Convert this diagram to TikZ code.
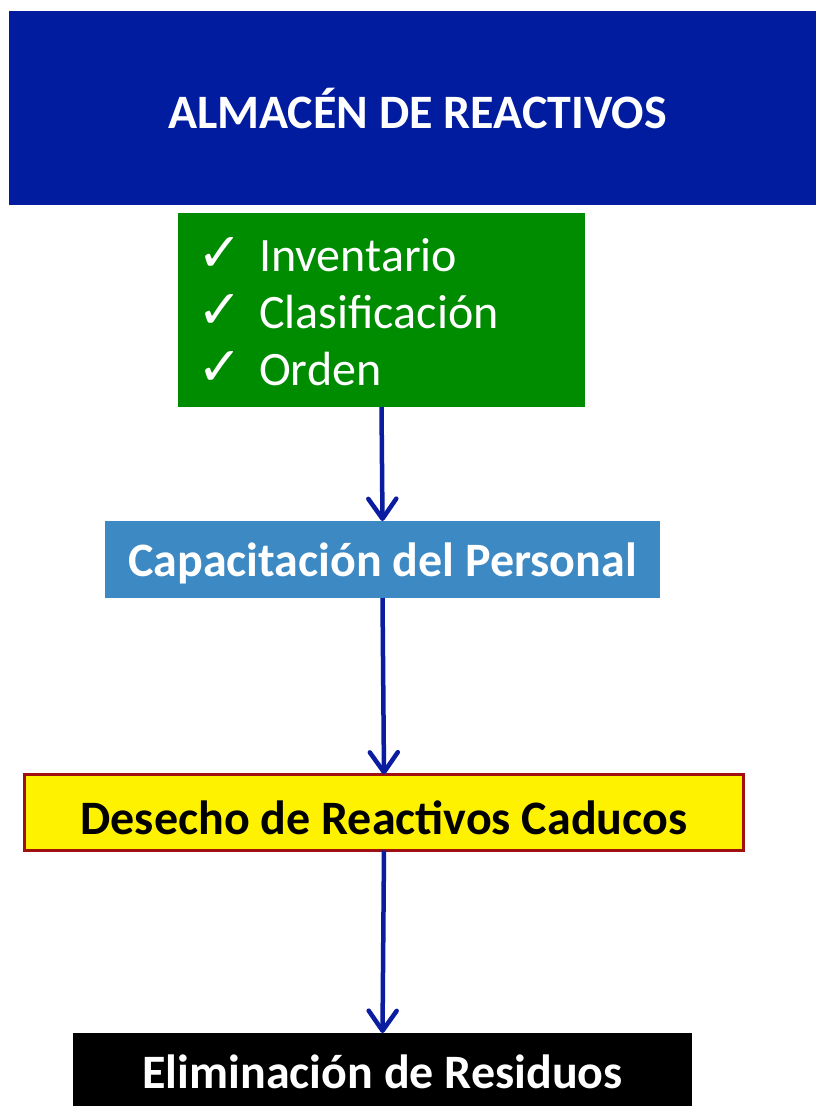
\documentclass[tikz,border=0pt]{standalone}
\usepackage{fontspec}
\setmainfont{Carlito}
\newfontfamily\symfont{DejaVu Sans}
\usetikzlibrary{arrows.meta}
\definecolor{topblue}{RGB}{2,28,160}
\definecolor{boxgreen}{RGB}{0,140,0}
\definecolor{capblue}{RGB}{60,137,196}
\definecolor{arrowblue}{RGB}{10,28,160}
\definecolor{borderred}{RGB}{160,16,16}
\begin{document}
\begin{tikzpicture}[x=1pt,y=-1pt,
  boxstyle/.style={inner sep=0pt, outer sep=0pt, align=center, text depth=0pt, font=\fontsize{48}{56}\selectfont\bfseries},
  itemtext/.style={anchor=base west, inner sep=0pt, text=white, font=\fontsize{48}{56}\selectfont},
  checktext/.style={anchor=base west, inner sep=0pt, text=white, font=\symfont\bfseries\fontsize{54}{56}\selectfont},
  flow/.style={draw=arrowblue, line width=4.5pt, -{Straight Barb[length=20pt,width=28pt,line width=4.5pt,line cap=round,line join=round]}}
]
\useasboundingbox (0,0) rectangle (815,1106);
\fill[white] (0,0) rectangle (815,1106);

% top box
\node[boxstyle, fill=topblue, text=white, text height=40pt, minimum width=817pt, minimum height=194pt] (top) at (417.5,108) {ALMAC\'EN DE REACTIVOS};

% green box
\node[inner sep=0pt, outer sep=0pt, fill=boxgreen, minimum width=407pt, minimum height=194pt] (green) at (381.5,310) {};
\node[checktext] (c1) at (197,271) {✓};
\node[checktext] (c2) at (197,328) {✓};
\node[checktext] (c3) at (197,385) {✓};
\node[itemtext] (t1) at (259,271) {Inventario};
\node[itemtext] (t2) at (259,328) {Clasificación};
\node[itemtext] (t3) at (259,385) {Orden};

% capacitacion
\node[boxstyle, fill=capblue, text=white, text height=34pt, minimum width=555pt, minimum height=77pt] (cap) at (382.5,559.5) {Capacitación del Personal};

% yellow
\node[boxstyle, fill=yellow, draw=borderred, line width=3pt, text=black, text height=43pt, minimum width=719pt, minimum height=76pt] (yel) at (384,812.5) {Desecho de Reactivos Caducos};

% black
\node[boxstyle, fill=black, text=white, text height=22pt, minimum width=619pt, minimum height=88pt] (blk) at (382.5,1077) {Eliminación de Residuos};

\draw[flow] (green.south) -- (cap.north);
\draw[flow] (cap.south) -- (yel.north);
\draw[flow] (yel.south) -- (blk.north);
\end{tikzpicture}
\end{document}
